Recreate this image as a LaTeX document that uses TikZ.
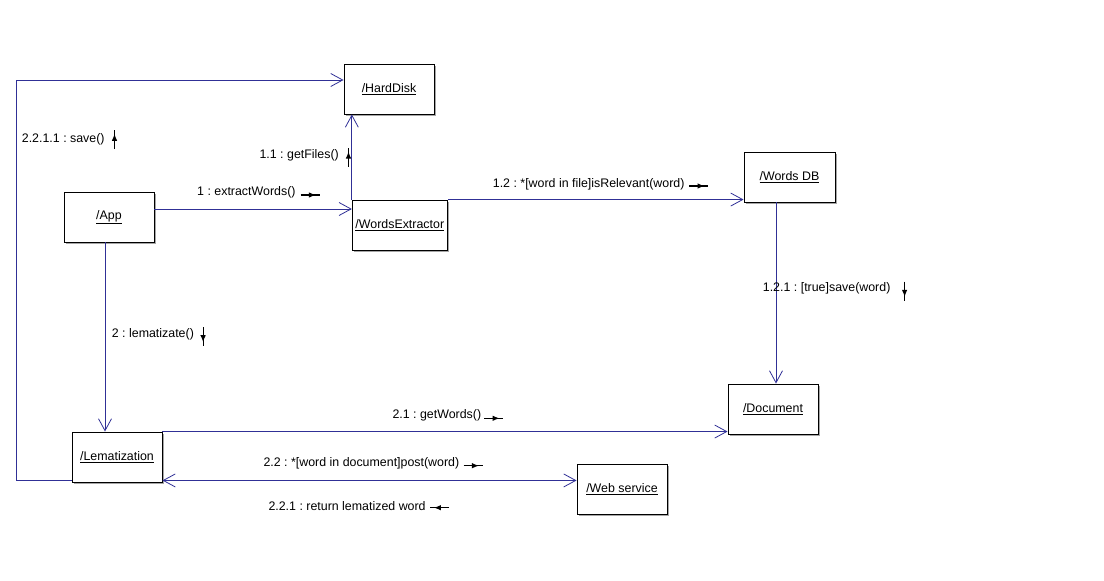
\documentclass[tikz,border=0pt]{standalone}
\usepackage{fontspec}
\setmainfont{Liberation Sans}
\usetikzlibrary{arrows.meta,shadows,decorations.markings}
\definecolor{conncol}{RGB}{48,48,150}
\frenchspacing
\tikzset{
  objbox/.style={draw=black, line width=0.9pt, fill=white, minimum width=90pt, minimum height=50pt, inner sep=0pt, font=\fontsize{12.4}{14}\selectfont,
    drop shadow={shadow xshift=1.5pt, shadow yshift=-1.5pt, fill=black!35, opacity=1}},
  conn/.style={draw=conncol, line width=0.9pt},
  barb/.style={-{Straight Barb[length=12pt,width=13pt,line width=0.8pt]}},
  dbarb/.style={{Straight Barb[length=12pt,width=13pt,line width=0.8pt]}-{Straight Barb[length=12pt,width=13pt,line width=0.8pt]}},
  lbl/.style={anchor=west, inner sep=0pt, font=\fontsize{12.4}{14}\selectfont},
  msg/.style={draw=black, line width=1.1pt, postaction={decorate},
    decoration={markings, mark=at position 0.8 with {\arrow{Latex[length=7pt,width=5.5pt]}}}}
}
\begin{document}
\begin{tikzpicture}[x=1pt,y=-1pt]
\useasboundingbox (0,0) rectangle (1104,581);
% objects
\node[objbox] (HD) at (389,89) {\raisebox{2pt}{\underline{/HardDisk}}};
\node[objbox] (App) at (109,217) {\raisebox{2pt}{\underline{/App}}};
\node[objbox, minimum width=95pt] (WE) at (399.8,225) {\raisebox{2pt}{\underline{/WordsExtractor}}};
\node[objbox, minimum width=91pt] (DB) at (789.5,177) {\raisebox{2pt}{\underline{/Words DB}}};
\node[objbox] (Doc) at (773,409) {\raisebox{2pt}{\underline{/Document}}};
\node[objbox] (Lem) at (117,457) {\raisebox{2pt}{\underline{/Lematization}}};
\node[objbox] (Web) at (622,489) {\raisebox{2pt}{\underline{/Web service}}};
\coordinate (loopc) at (16,80);
% connectors
\draw[conn,barb] ([yshift=8pt]App.east) -- ([yshift=8pt]App.east -| WE.west);
\draw[conn,barb] (WE.north west) -- (WE.north west |- HD.south);
\draw[conn,barb] (WE.north east) -- (WE.north east -| DB.west);
\draw[conn,barb] ([xshift=-13.5pt]DB.south) -- ([xshift=-13.5pt]DB.south |- Doc.north);
\draw[conn,barb] ([xshift=-4pt]App.south) -- ([xshift=-4pt]App.south |- Lem.north);
\draw[conn,barb] (Lem.north east) -- (Lem.north east -| Doc.west);
\draw[conn,dbarb] ([yshift=2pt]Lem.south east) -- ([yshift=2pt]Lem.south east -| Web.west);
\draw[conn,barb] ([yshift=2pt]Lem.south west) -| (loopc) -- ([yshift=9pt]HD.west);
% labels
\node[lbl] (l1) at (197,192.7) {1 : extractWords()};
\node[lbl, anchor=east] (l11) at (339,155.7) {1.1 : getFiles()};
\node[lbl] (l2211) at (21.7,139) {2.2.1.1 : save()};
\node[lbl] (l12) at (492.7,184.3) {1.2 : *[word in file]isRelevant(word)};
\node[lbl] (l121) at (762.7,288.7) {1.2.1 : [true]save(word)};
\node[lbl] (l2) at (111.7,334) {2 : lematizate()};
\node[lbl] (l21) at (392.3,415.7) {2.1 : getWords()};
\node[lbl] (l22) at (263.3,463.3) {2.2 : *[word in document]post(word)};
\node[lbl] (l221) at (268.3,506) {2.2.1 : return lematized word};
% message arrows
\draw[msg] ([xshift=5pt,yshift=-2.3pt]l1.east) -- ++(19,0);
\draw[msg] ([xshift=9.5pt,yshift=-11pt]l11.east) -- ++(0,-19);
\draw[msg] ([xshift=9.7pt,yshift=-10pt]l2211.east) -- ++(0,-19);
\draw[msg] ([xshift=4.7pt,yshift=-1.7pt]l12.east) -- ++(19,0);
\draw[msg] ([xshift=14pt,yshift=7pt]l121.east) -- ++(0,19);
\draw[msg] ([xshift=9pt,yshift=7pt]l2.east) -- ++(0,19);
\draw[msg] ([xshift=3pt,yshift=-2.6pt]l21.east) -- ++(19,0);
\draw[msg] ([xshift=4.3pt,yshift=-2.4pt]l22.east) -- ++(19,0);
\draw[msg] ([xshift=23.3pt,yshift=-1.7pt]l221.east) -- ++(-19,0);
\end{tikzpicture}
\end{document}
